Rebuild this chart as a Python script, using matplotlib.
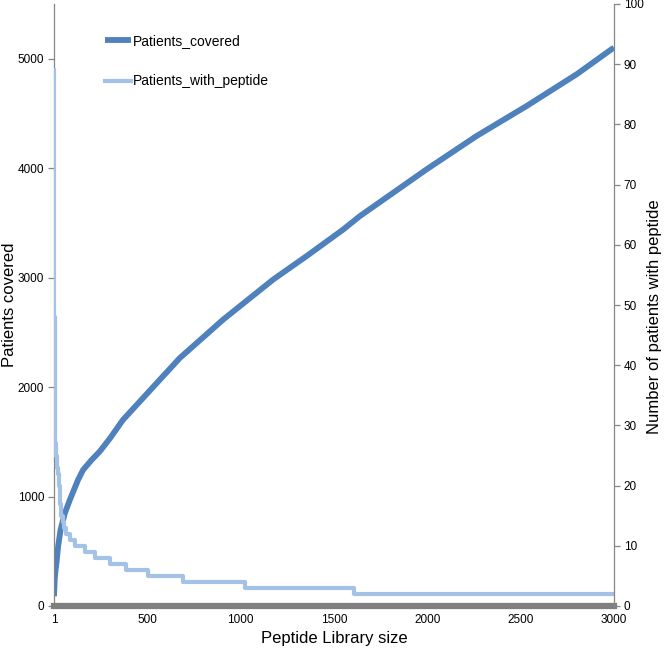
import matplotlib
matplotlib.use("Agg")
import matplotlib.pyplot as plt

plt.rcParams['font.family'] = ['Liberation Sans', 'DejaVu Sans']

# Patients covered (cumulative), left axis
cov_rank = [1, 5, 10, 14, 23, 36, 59, 86, 130, 157, 200, 246, 300, 371, 461, 568,
            675, 907, 1175, 1353, 1550, 1639, 1996, 2264, 2532, 2800, 2987, 3000]
cov_vals = [89, 250, 340, 390, 543, 695, 848, 970, 1153, 1244, 1330, 1412, 1530, 1702,
            1869, 2068, 2266, 2617, 2983, 3196, 3440, 3562, 3989, 4294, 4568, 4858, 5087, 5100]

# Patients with peptide (step), right axis
pp_rank = [1, 2, 3, 4, 5, 7, 9, 12, 16, 20, 27, 33, 40, 48, 56, 64, 86, 112, 166, 220,
           300, 389, 505, 692, 1023, 1607, 3000]
pp_vals = [89, 62, 48, 40, 34, 30, 27, 25, 23, 22, 20, 17, 15, 14, 13, 12, 11, 10, 9, 8,
           7, 6, 5, 4, 3, 2, 2]

x_ticks = [1, 500, 1000, 1500, 2000, 2500, 3000]
left_ticks = [0, 1000, 2000, 3000, 4000, 5000]
right_ticks = list(range(0, 101, 10))

dark = '#4F81BD'
light = '#A4C2E6'
gray = '#868686'

fig = plt.figure(figsize=(6.66, 6.51), dpi=100)
ax = fig.add_axes([54/666, 1-606/651, (614-54)/666, (606-4)/651])
ax2 = ax.twinx()

l1, = ax.plot(cov_rank, cov_vals, color=dark, lw=4.2, solid_capstyle='butt',
              solid_joinstyle='round', label='Patients_covered')
l2, = ax2.plot(pp_rank, pp_vals, color=light, lw=3.0, drawstyle='steps-post',
               label='Patients_with_peptide')

ax.set_xlim(1, 3000)
ax.set_ylim(0, 5500)
ax2.set_ylim(0, 100)
ax.set_xticks(x_ticks)
ax.set_yticks(left_ticks)
ax2.set_yticks(right_ticks)

for a in (ax, ax2):
    for s in a.spines.values():
        s.set_color(gray)
        s.set_linewidth(0.9)
    a.spines['top'].set_visible(False)
ax.spines['bottom'].set_linewidth(4.5)
ax.spines['bottom'].set_color('#7F7F7F')
ax2.spines['bottom'].set_visible(False)
ax.spines['right'].set_visible(False)
ax2.spines['left'].set_visible(False)

ax.tick_params(axis='y', direction='out', length=4, width=0.9, color=gray,
               labelsize=8.5, pad=3)
ax2.tick_params(axis='y', direction='out', length=4, width=0.9, color=gray,
                labelsize=8.5, pad=3)
ax.tick_params(axis='x', length=0, labelsize=8.5, pad=6)

ax.set_xlabel('Peptide Library size', fontsize=12, labelpad=3)
ax.set_ylabel('Patients covered', fontsize=12)
ax2.set_ylabel('Number of patients with peptide', fontsize=12, rotation=90)
ax.yaxis.set_label_coords((17 - 54) / 560, 0.5)
ax2.yaxis.set_label_coords((647 - 54) / 560, (606 - 317) / 602)

ax2.legend([l1, l2], ['Patients_covered', 'Patients_with_peptide'],
           loc='upper left', bbox_to_anchor=(0.091, 0.950), frameon=False,
           fontsize=10, handlelength=1.9, handletextpad=0.1, labelspacing=1.9,
           borderpad=0, borderaxespad=0)

fig.savefig('out.png', dpi=100)
